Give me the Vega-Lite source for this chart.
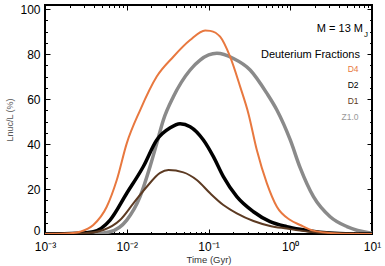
{
  "$schema": "https://vega.github.io/schema/vega-lite/v6.json",
  "width": 327,
  "height": 229,
  "autosize": {"type": "none"},
  "padding": {"left": 45, "top": 5, "right": 13, "bottom": 32},
  "config": {
    "font": "Liberation Sans",
    "view": {"stroke": "black", "strokeWidth": 2},
    "axis": {
      "domain": false,
      "grid": false,
      "tickColor": "black",
      "tickWidth": 1,
      "labelColor": "black",
      "labelFontSize": 12,
      "titleFontWeight": "normal",
      "titleFontSize": 9.5,
      "titleColor": "#333333"
    }
  },
  "datasets": {
    "curves": [
      {"s": "Z1.0", "t": 0.001, "v": 0},
      {"s": "Z1.0", "t": 0.004, "v": 0.1},
      {"s": "Z1.0", "t": 0.00625, "v": 1.0},
      {"s": "Z1.0", "t": 0.01, "v": 6.2},
      {"s": "Z1.0", "t": 0.01455, "v": 16.6},
      {"s": "Z1.0", "t": 0.01928, "v": 30},
      {"s": "Z1.0", "t": 0.02328, "v": 40.3},
      {"s": "Z1.0", "t": 0.02805, "v": 50.7},
      {"s": "Z1.0", "t": 0.03715, "v": 61},
      {"s": "Z1.0", "t": 0.0596, "v": 72.9},
      {"s": "Z1.0", "t": 0.0789, "v": 77.3},
      {"s": "Z1.0", "t": 0.1265, "v": 80.3},
      {"s": "Z1.0", "t": 0.2018, "v": 78},
      {"s": "Z1.0", "t": 0.323, "v": 72.9},
      {"s": "Z1.0", "t": 0.518, "v": 62.5},
      {"s": "Z1.0", "t": 0.686, "v": 55.1},
      {"s": "Z1.0", "t": 1.0, "v": 41.8},
      {"s": "Z1.0", "t": 1.32, "v": 29.5},
      {"s": "Z1.0", "t": 1.923, "v": 16.6},
      {"s": "Z1.0", "t": 3.076, "v": 7.7},
      {"s": "Z1.0", "t": 4.932, "v": 3.3},
      {"s": "Z1.0", "t": 9.5, "v": 0.5},
      {"s": "Z1.0", "t": 10, "v": 0.4},
      {"s": "D2", "t": 0.001, "v": 0},
      {"s": "D2", "t": 0.0025, "v": 0.3},
      {"s": "D2", "t": 0.0039, "v": 1.0},
      {"s": "D2", "t": 0.00625, "v": 6.2},
      {"s": "D2", "t": 0.01, "v": 18.1},
      {"s": "D2", "t": 0.01596, "v": 30},
      {"s": "D2", "t": 0.02328, "v": 41.8},
      {"s": "D2", "t": 0.034, "v": 47.2},
      {"s": "D2", "t": 0.0449, "v": 49},
      {"s": "D2", "t": 0.0596, "v": 47.7},
      {"s": "D2", "t": 0.0866, "v": 41.8},
      {"s": "D2", "t": 0.1148, "v": 34.4},
      {"s": "D2", "t": 0.152, "v": 25.5},
      {"s": "D2", "t": 0.222, "v": 16.6},
      {"s": "D2", "t": 0.355, "v": 9.9},
      {"s": "D2", "t": 0.567, "v": 5.5},
      {"s": "D2", "t": 0.908, "v": 3.3},
      {"s": "D2", "t": 1.32, "v": 2.1},
      {"s": "D2", "t": 2.3, "v": 0.8},
      {"s": "D2", "t": 4, "v": 0.2},
      {"s": "D2", "t": 10, "v": 0},
      {"s": "D1", "t": 0.001, "v": 0},
      {"s": "D1", "t": 0.003, "v": 0.3},
      {"s": "D1", "t": 0.00518, "v": 1.8},
      {"s": "D1", "t": 0.00828, "v": 6.2},
      {"s": "D1", "t": 0.01205, "v": 13.6},
      {"s": "D1", "t": 0.01758, "v": 21},
      {"s": "D1", "t": 0.0256, "v": 27.2},
      {"s": "D1", "t": 0.0324, "v": 28.4},
      {"s": "D1", "t": 0.0493, "v": 27.4},
      {"s": "D1", "t": 0.0719, "v": 24},
      {"s": "D1", "t": 0.1047, "v": 18.1},
      {"s": "D1", "t": 0.152, "v": 12.9},
      {"s": "D1", "t": 0.222, "v": 9.2},
      {"s": "D1", "t": 0.355, "v": 5.8},
      {"s": "D1", "t": 0.567, "v": 3.6},
      {"s": "D1", "t": 0.908, "v": 2.4},
      {"s": "D1", "t": 1.32, "v": 1.5},
      {"s": "D1", "t": 2.3, "v": 0.6},
      {"s": "D1", "t": 4, "v": 0.2},
      {"s": "D1", "t": 10, "v": 0},
      {"s": "D4", "t": 0.001, "v": 0},
      {"s": "D4", "t": 0.002, "v": 0.3},
      {"s": "D4", "t": 0.00268, "v": 1.0},
      {"s": "D4", "t": 0.0039, "v": 4},
      {"s": "D4", "t": 0.00569, "v": 12.1},
      {"s": "D4", "t": 0.00755, "v": 24},
      {"s": "D4", "t": 0.01, "v": 40.3},
      {"s": "D4", "t": 0.01455, "v": 55},
      {"s": "D4", "t": 0.02328, "v": 70},
      {"s": "D4", "t": 0.03715, "v": 78.8},
      {"s": "D4", "t": 0.0596, "v": 86.2},
      {"s": "D4", "t": 0.091, "v": 90.5},
      {"s": "D4", "t": 0.105, "v": 90.3},
      {"s": "D4", "t": 0.1387, "v": 87.7},
      {"s": "D4", "t": 0.1837, "v": 78.8},
      {"s": "D4", "t": 0.2438, "v": 65.5},
      {"s": "D4", "t": 0.308, "v": 53.5},
      {"s": "D4", "t": 0.39, "v": 37.3},
      {"s": "D4", "t": 0.518, "v": 22.5},
      {"s": "D4", "t": 0.686, "v": 12.1},
      {"s": "D4", "t": 1.0, "v": 6.2},
      {"s": "D4", "t": 1.32, "v": 4.0},
      {"s": "D4", "t": 1.9, "v": 1.5},
      {"s": "D4", "t": 3, "v": 0.5},
      {"s": "D4", "t": 5, "v": 0.1},
      {"s": "D4", "t": 10, "v": 0}
    ]
  },
  "layer": [
    {
      "data": {"name": "curves"},
      "mark": {"type": "line", "interpolate": "monotone", "clip": true},
      "encoding": {
        "x": {
          "field": "t", "type": "quantitative",
          "scale": {"type": "log", "domain": [0.001, 10]},
          "axis": {
            "orient": "bottom",
            "title": "Time (Gyr)",
            "titlePadding": 0,
            "values": [0.001, 0.002, 0.003, 0.004, 0.005, 0.006, 0.007, 0.008, 0.009, 0.01, 0.02, 0.03, 0.04, 0.05, 0.06, 0.07, 0.08, 0.09, 0.1, 0.2, 0.3, 0.4, 0.5, 0.6, 0.7, 0.8, 0.9, 1, 2, 3, 4, 5, 6, 7, 8, 9, 10],
            "labelExpr": "datum.value == 0.001 ? '10⁻³' : datum.value == 0.01 ? '10⁻²' : datum.value == 0.1 ? '10⁻¹' : datum.value == 1 ? '10⁰' : datum.value == 10 ? '10¹' : ''",
            "labelPadding": 12,
            "labelFlush": false,
            "labelOverlap": false,
            "tickSize": {"condition": {"test": "indexof([0.001,0.01,0.1,1,10], datum.value) >= 0", "value": -5}, "value": -2.5}
          }
        },
        "y": {
          "field": "v", "type": "quantitative",
          "scale": {"domain": [0, 101.8], "nice": false},
          "axis": {
            "orient": "left",
            "title": "Lnuc/L (%)",
            "titleColor": "#555555",
            "titleFontSize": 9,
            "titlePadding": 5,
            "values": [0, 5, 10, 15, 20, 25, 30, 35, 40, 45, 50, 55, 60, 65, 70, 75, 80, 85, 90, 95, 100],
            "labelExpr": "datum.value % 20 == 0 ? datum.label : ''",
            "labelPadding": 10,
            "labelOverlap": false,
            "labelFlush": false,
            "labelBaseline": {"condition": {"test": "datum.value == 0", "value": "alphabetic"}, "value": "middle"},
            "tickSize": {"condition": {"test": "datum.value % 20 == 0", "value": -5}, "value": -2.5}
          }
        },
        "color": {
          "field": "s", "type": "nominal",
          "scale": {"domain": ["Z1.0", "D2", "D1", "D4"], "range": ["#8a8a8a", "#000000", "#5c3a22", "#e8783f"]},
          "legend": null
        },
        "strokeWidth": {
          "condition": {"test": "datum.s == 'D4' || datum.s == 'D1'", "value": 2},
          "value": 3.5
        }
      }
    },
    {
      "data": {"values": [{}]},
      "mark": {"type": "text", "text": "M = 13 M", "align": "right", "baseline": "alphabetic", "fontSize": 11, "color": "black"},
      "encoding": {
        "x": {
          "datum": 7.76, "type": "quantitative",
          "axis": {
            "orient": "top", "title": null, "labels": false,
            "values": [0.001, 0.002, 0.003, 0.004, 0.005, 0.006, 0.007, 0.008, 0.009, 0.01, 0.02, 0.03, 0.04, 0.05, 0.06, 0.07, 0.08, 0.09, 0.1, 0.2, 0.3, 0.4, 0.5, 0.6, 0.7, 0.8, 0.9, 1, 2, 3, 4, 5, 6, 7, 8, 9, 10],
            "tickSize": {"condition": {"test": "indexof([0.001,0.01,0.1,1,10], datum.value) >= 0", "value": -5}, "value": -2.5}
          }
        },
        "y": {
          "datum": 89.8, "type": "quantitative",
          "axis": {
            "orient": "right", "title": null, "labels": false,
            "values": [0, 5, 10, 15, 20, 25, 30, 35, 40, 45, 50, 55, 60, 65, 70, 75, 80, 85, 90, 95, 100],
            "tickSize": {"condition": {"test": "datum.value % 20 == 0", "value": -5}, "value": -2.5}
          }
        }
      }
    },
    {
      "data": {"values": [{}]},
      "mark": {"type": "text", "text": "J", "align": "left", "baseline": "alphabetic", "fontSize": 8, "color": "black"},
      "encoding": {
        "x": {"datum": 7.98, "type": "quantitative", "axis": null},
        "y": {"datum": 87.6, "type": "quantitative", "axis": null}
      }
    },
    {
      "data": {"values": [{}]},
      "mark": {"type": "text", "text": "Deuterium Fractions", "align": "right", "baseline": "alphabetic", "fontSize": 11, "color": "black"},
      "encoding": {
        "x": {"datum": 7.13, "type": "quantitative", "axis": null},
        "y": {"datum": 78.2, "type": "quantitative", "axis": null}
      }
    },
    {
      "data": {"values": [{}]},
      "mark": {"type": "text", "text": "D4", "align": "right", "baseline": "alphabetic", "fontSize": 8.5, "color": "#e8783f"},
      "encoding": {
        "x": {"datum": 6.84, "type": "quantitative", "axis": null},
        "y": {"datum": 72.2, "type": "quantitative", "axis": null}
      }
    },
    {
      "data": {"values": [{}]},
      "mark": {"type": "text", "text": "D2", "align": "right", "baseline": "alphabetic", "fontSize": 8.5, "color": "#000000"},
      "encoding": {
        "x": {"datum": 6.84, "type": "quantitative", "axis": null},
        "y": {"datum": 64.9, "type": "quantitative", "axis": null}
      }
    },
    {
      "data": {"values": [{}]},
      "mark": {"type": "text", "text": "D1", "align": "right", "baseline": "alphabetic", "fontSize": 8.5, "color": "#5c3a22"},
      "encoding": {
        "x": {"datum": 6.84, "type": "quantitative", "axis": null},
        "y": {"datum": 57.8, "type": "quantitative", "axis": null}
      }
    },
    {
      "data": {"values": [{}]},
      "mark": {"type": "text", "text": "Z1.0", "align": "right", "baseline": "alphabetic", "fontSize": 8.5, "color": "#999999"},
      "encoding": {
        "x": {"datum": 6.84, "type": "quantitative", "axis": null},
        "y": {"datum": 50.5, "type": "quantitative", "axis": null}
      }
    }
  ],
  "resolve": {"axis": {"x": "independent", "y": "independent"}}
}
